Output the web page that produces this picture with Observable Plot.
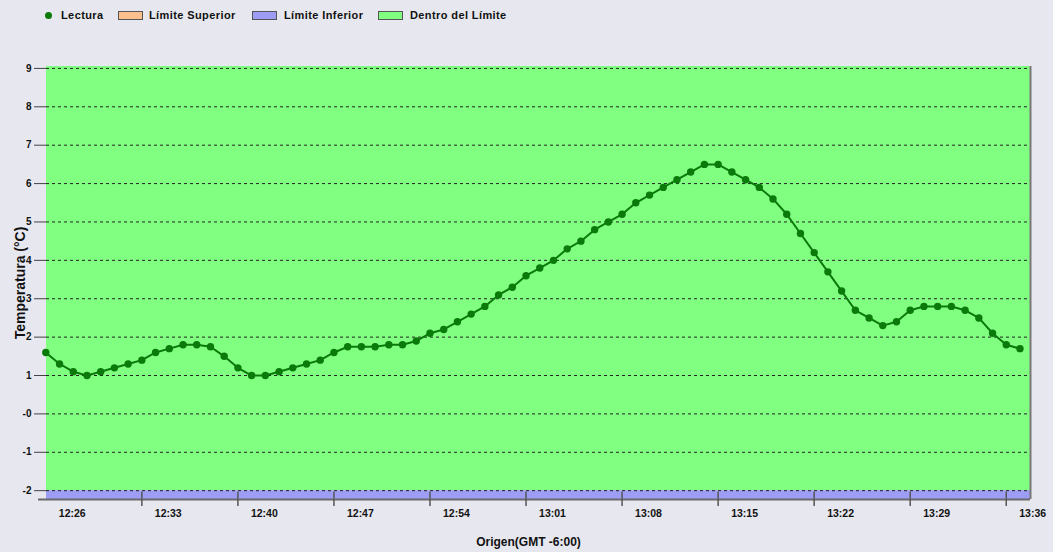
<!DOCTYPE html>
<html>
<head>
<meta charset="utf-8">
<script src="https://cdn.jsdelivr.net/npm/d3@7"></script>
<script src="https://cdn.jsdelivr.net/npm/@observablehq/plot@0.6"></script>
<style>
  html, body { margin: 0; padding: 0; }
  body { width: 1053px; height: 552px; overflow: hidden; background: #e7e8ef;
         font-family: "Liberation Sans", Arial, sans-serif; font-weight: bold; color: #111; }
  #legend { position: relative; height: 28px; font-size: 11px; letter-spacing: 0.4px; }
  #legend .item { position: absolute; top: 9px; line-height: 12px; white-space: nowrap; }
  #legend .sw { position: absolute; top: 11px; width: 23px; height: 7px; border: 1px solid #555; }
  #legend .dot { position: absolute; top: 12px; width: 7px; height: 7px; border-radius: 50%; }
  #chart svg { display: block; }
</style>
</head>
<body>
<div id="legend"></div>
<div id="chart"></div>
<script>
// ---- data ----
const times = [
  "12:26","12:27","12:28","12:29","12:30","12:31","12:32","12:33","12:34","12:35",
  "12:36","12:37","12:38","12:39","12:40","12:41","12:42","12:43","12:44","12:45",
  "12:46","12:47","12:48","12:49","12:50","12:51","12:52","12:53","12:54","12:55",
  "12:56","12:57","12:58","12:59","13:00","13:01","13:02","13:03","13:04","13:05",
  "13:06","13:07","13:08","13:09","13:10","13:11","13:12","13:13","13:14","13:15",
  "13:16","13:17","13:18","13:19","13:20","13:21","13:22","13:23","13:24","13:25",
  "13:26","13:27","13:28","13:29","13:30","13:31","13:32","13:33","13:34","13:35",
  "13:36","13:37"
];
const lectura = [
  1.6, 1.3, 1.1, 1.0, 1.1, 1.2, 1.3, 1.4, 1.6, 1.7,
  1.8, 1.8, 1.75, 1.5, 1.2, 1.0, 1.0, 1.1, 1.2, 1.3,
  1.4, 1.6, 1.75, 1.75, 1.75, 1.8, 1.8, 1.9, 2.1, 2.2,
  2.4, 2.6, 2.8, 3.1, 3.3, 3.6, 3.8, 4.0, 4.3, 4.5,
  4.8, 5.0, 5.2, 5.5, 5.7, 5.9, 6.1, 6.3, 6.5, 6.5,
  6.3, 6.1, 5.9, 5.6, 5.2, 4.7, 4.2, 3.7, 3.2, 2.7,
  2.5, 2.3, 2.4, 2.7, 2.8, 2.8, 2.8, 2.7, 2.5, 2.1,
  1.8, 1.7
];
const xTickLabels = ["12:26","12:33","12:40","12:47","12:54","13:01","13:08","13:15","13:22","13:29","13:36"];
const xDomain = ["12:26:03", "13:37:46"];
const yTicks = [-2, -1, 0, 1, 2, 3, 4, 5, 6, 7, 8, 9];
const yTickLabels = ["-2", "-1", "-0", "1", "2", "3", "4", "5", "6", "7", "8", "9"];
const yDomain = [-2.23, 9.05];
const limiteInferior = -2;
const limiteSuperior = 9.05;
const legendNames = ["Lectura", "Límite Superior", "Límite Inferior", "Dentro del Límite"];
const legendColors = ["#0a7a0a", "#fbc08e", "#9d9df6", "#80ff80"];

// ---- helpers ----
const parseT = s => { const [h, m, sec = 0] = s.split(":").map(Number); return new Date(2000, 0, 1, h, m, sec); };
const fmt = d3.timeFormat("%H:%M");
const data = times.map((t, i) => ({ t: parseT(t), v: lectura[i] }));
const xd = xDomain.map(parseT);
const xTicks = xTickLabels.map(parseT);
const bands = [
  { lo: limiteInferior, hi: limiteSuperior, fill: legendColors[3] },
  { lo: yDomain[0], hi: limiteInferior, fill: legendColors[2] }
];

// ---- legend ----
const legend = document.getElementById("legend");
const legendX = [[45, 61], [118, 149], [252, 284], [378, 410]];
legendNames.forEach((name, i) => {
  const mk = document.createElement("div");
  mk.className = i === 0 ? "dot" : "sw";
  mk.style.left = legendX[i][0] + "px";
  mk.style.background = legendColors[i];
  legend.appendChild(mk);
  const tx = document.createElement("div");
  tx.className = "item";
  tx.style.left = legendX[i][1] + "px";
  tx.textContent = name;
  legend.appendChild(tx);
});

// ---- chart ----
const chart = Plot.plot({
  width: 1053,
  height: 524,
  marginLeft: 46,
  marginRight: 23,
  marginTop: 38,
  marginBottom: 53,
  style: { background: "transparent", fontFamily: "'Liberation Sans', Arial, sans-serif", fontWeight: "bold", color: "#111", overflow: "visible" },
  x: { type: "time", domain: xd },
  y: { domain: yDomain },
  marks: [
    Plot.rect(bands, { x1: () => xd[0], x2: () => xd[1], y1: "lo", y2: "hi", fill: "fill" }),
    Plot.ruleY(yTicks, { stroke: "#222", strokeDasharray: "3,3", strokeWidth: 1 }),
    Plot.ruleX(xTicks.slice(1), { y1: yDomain[0], y2: limiteInferior - 0.04, stroke: "#555", strokeWidth: 1.5 }),
    Plot.ruleY([yDomain[0]], { stroke: "#6a6a6a", strokeWidth: 2, insetLeft: -8 }),
    Plot.ruleX([xd[1]], { stroke: "#777", strokeWidth: 2 }),
    // tick marks
    Plot.axisX({ ticks: xTicks.slice(1), tickFormat: () => "", tickSize: 7, label: null, stroke: "#555", strokeWidth: 1.5 }),
    // tick labels (placed to the right of their ticks)
    Plot.axisX({ ticks: xTicks, tickFormat: fmt, tickSize: 0, tickPadding: 10, textAnchor: "start", dx: 13, fontSize: 10.5, label: null }),
    Plot.axisY({ ticks: yTicks, tickFormat: d => yTickLabels[yTicks.indexOf(d)], tickSize: 12, tickPadding: 3, fontSize: 10, label: null, stroke: "#444" }),
    Plot.line(data, { x: "t", y: "v", stroke: "#0a7a0a", strokeWidth: 2 }),
    Plot.dot(data, { x: "t", y: "v", r: 3.7, fill: "#0a7a0a" }),
    Plot.text(["Temperatura (°C)"], { frameAnchor: "left", textAnchor: "middle", rotate: -90, dx: -26, fontSize: 14, fontWeight: "bold", fill: "#111" }),
    Plot.text(["Origen(GMT -6:00)"], { frameAnchor: "bottom", dy: 46, dx: -10, fontSize: 12, fontWeight: "bold", fill: "#111" })
  ]
});
document.getElementById("chart").appendChild(chart);
</script>
</body>
</html>
